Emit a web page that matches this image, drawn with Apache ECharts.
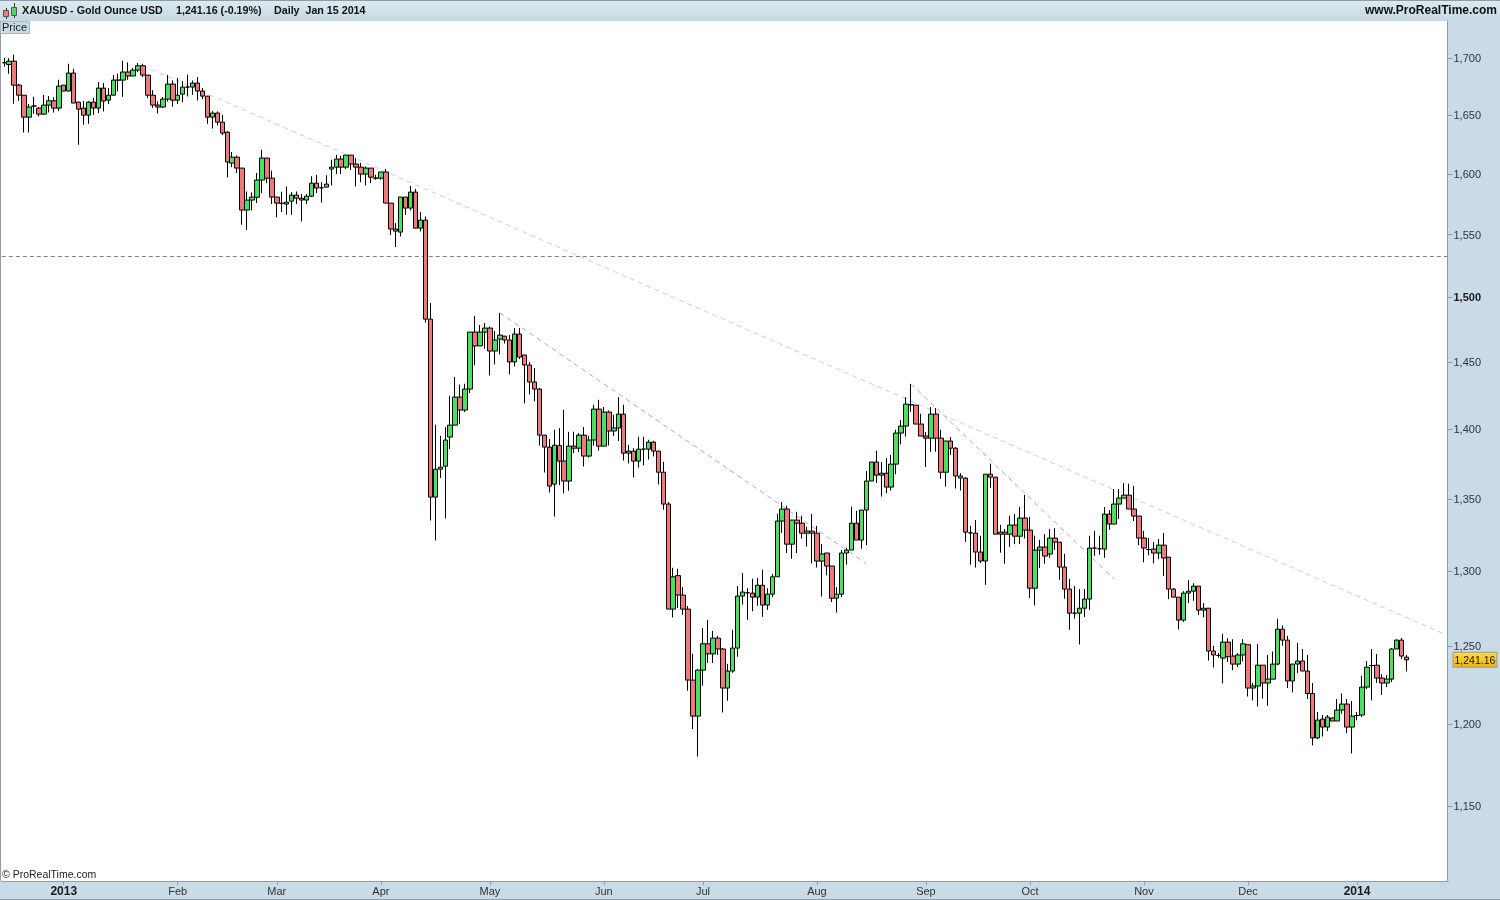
<!DOCTYPE html>
<html>
<head>
<meta charset="utf-8">
<title>XAUUSD - Gold Ounce USD</title>
<script src="https://cdn.jsdelivr.net/npm/echarts@6/dist/echarts.min.js"></script>
<style>
html, body { margin: 0; padding: 0; background: #c8dbe6; }
#main { width: 1500px; height: 900px; }
</style>
</head>
<body>
<div id="main"></div>
<script>
var opens = [
1695.6,1694.1,1697,1675.9,1667.1,1648.1,1657.7,1655.9,1650.7,1658.5,
1662.2,1655.9,1675.9,1670.7,1686.5,1661.1,1655.9,1649.8,1661.1,1655.9,
1673.3,1662.8,1667.1,1680.3,1680.3,1687.4,1683.9,1689.1,1692.9,1684.7,
1667.1,1658.5,1656.8,1663.7,1676.8,1662.8,1668,1674.2,1674.2,1677.7,
1670.7,1666.3,1648.1,1651.6,1643.8,1635.2,1609,1614,1604.8,1570,
1578.2,1580.5,1594.8,1613.2,1596.4,1580.7,1575.5,1574.9,1577.3,1582.3,
1579.7,1578.2,1581.4,1592.2,1588.4,1588.9,1604,1605.6,1612.4,1605.6,
1615.7,1608.2,1605.6,1599.8,1604.8,1596.4,1596.4,1601.5,1575.7,1554.5,
1552,1580.7,1571.6,1584.8,1555.2,1561.8,1483,1351.3,1371.2,1373.3,
1394.4,1403.1,1423.8,1414.2,1429.8,1473,1462.4,1473,1476.1,1458.5,
1467.6,1469.9,1466.9,1450.2,1471.5,1455.5,1447.9,1435.1,1429.8,1395.8,
1387.1,1360.5,1388.2,1377,1362.7,1387.8,1386.3,1395.8,1380.6,1392.2,
1414.9,1387.8,1412.7,1398.8,1401,1411.2,1382.7,1384.2,1377,1385.6,
1385.6,1390.7,1384.2,1369,1346.4,1274.5,1297,1283.9,1274.5,1228.1,
1205.2,1234.5,1251.6,1245,1255.3,1248.2,1223,1233.9,1248.8,1283.2,
1285.4,1285.2,1282.5,1290.5,1277.2,1284.5,1296.2,1334.5,1342.9,1318.5,
1335.2,1333,1326.1,1327.5,1326.1,1306.9,1312.4,1303.5,1281.8,1284.5,
1312.4,1314.4,1333,1321.3,1342.2,1362.7,1376.3,1366.9,1368.3,1358.4,
1374.8,1397.3,1402.4,1418.1,1417.8,1403.9,1395.1,1393.6,1411.2,1393.6,
1369,1391.5,1386.3,1366.3,1364.8,1326.3,1326.1,1313.1,1306.9,1367.6,
1365.5,1325.4,1326.8,1325.4,1331.7,1324,1336.6,1328.2,1288.5,1314.4,
1316.5,1311.7,1322.7,1319.9,1302.8,1287.9,1271.8,1271.8,1275.1,1281.2,
1315.8,1315.3,1315.1,1339.4,1332.4,1346.4,1350.6,1352.7,1342.9,1338,
1322.7,1314.8,1315.1,1312.4,1317.8,1309.6,1287.9,1282.5,1267.2,1285.2,
1286.5,1289.9,1273.8,1275.1,1246.9,1244,1242.3,1252.7,1243.6,1238.4,
1244.3,1251,1223,1224.3,1237.7,1226.2,1228.7,1238.4,1261.2,1254,
1227.5,1238.4,1240.4,1233.9,1219.5,1191.5,1203.3,1198.3,1204,1202.1,
1209,1212.8,1198.3,1205.6,1205.9,1223.6,1237.5,1237.7,1229.4,1226.2,
1228.7,1248.2,1254,1242.9
];
var closes = [
1695.6,1697,1675.9,1667.1,1648.1,1656.8,1657.7,1650.7,1658.5,1662.2,
1655.9,1675,1670.7,1686.5,1660.3,1655,1649.8,1661.1,1655.9,1673.3,
1662,1667.1,1680.3,1680.3,1687.4,1683.9,1689.1,1692.9,1684.7,1667.1,
1658.5,1656.8,1663.7,1676.8,1662.8,1667.1,1674.2,1674.2,1677.7,1670.7,
1666.3,1648.1,1651.6,1643.8,1634.4,1609.9,1614,1604.8,1570,1578.2,
1580.7,1594.8,1613.2,1596.4,1580.7,1575.7,1575.5,1576.5,1582.3,1579.7,
1578.2,1581.4,1592.2,1588.1,1588.4,1591.4,1605.6,1612.4,1605.6,1615.7,
1608.2,1605.6,1599.8,1604.8,1597.2,1596.4,1601.5,1575.7,1554.5,1552.8,
1580.7,1571.6,1584.8,1555.2,1561.8,1483,1351.3,1371.2,1372.6,1392.2,
1403.1,1423.8,1414.2,1429.8,1473,1462.4,1473,1476.1,1458.5,1466.9,
1470.7,1466.9,1450.2,1471.5,1453.9,1447.9,1435.1,1429.8,1395.8,1387.1,
1359.1,1388.5,1377,1362.7,1387.8,1386.3,1395.8,1380.6,1392.2,1414.9,
1387.8,1412.7,1398.8,1401,1411.2,1382.7,1384.2,1377,1385.6,1385.6,
1390.7,1384.2,1369,1346.4,1274.5,1296.2,1283.9,1274.5,1228.1,1205.2,
1234.5,1251.6,1245,1255.3,1248.2,1223,1233.9,1248.8,1283.2,1285.9,
1285.4,1282.5,1290.5,1277.2,1284.5,1296.2,1334.5,1342.9,1318.5,1335.2,
1333,1326.1,1327.5,1326.1,1306.9,1311.7,1303.5,1281.8,1284.5,1312.4,
1314.4,1333,1321.3,1342.2,1362.7,1376.3,1366.9,1368.3,1358.4,1374.8,
1397.3,1402.4,1418.6,1418.1,1403.9,1395.1,1393.6,1411.2,1393.6,1369,
1391.5,1386.3,1366.3,1364.8,1326.8,1326.3,1313.1,1306.9,1367.6,1365.5,
1325.4,1326.8,1325.4,1331.7,1324,1336.6,1328.2,1288.5,1314.4,1316.5,
1310.3,1322.7,1319.9,1302.8,1287.9,1271.8,1271.8,1275.1,1281.2,1315.8,
1315.8,1315.3,1339.4,1332.4,1346.4,1350.6,1352.7,1342.9,1338,1322.7,
1315.8,1314.8,1312.4,1317.8,1309,1287.9,1282.5,1267.2,1285.2,1286.5,
1289.9,1273.8,1275.1,1246.9,1244.3,1244,1252.7,1243.2,1238.4,1244.3,
1251.6,1223,1224.3,1237.7,1226.2,1228.7,1238.4,1261.2,1254,1227.5,
1238.4,1240.4,1233.9,1219.5,1191.5,1202.7,1198.3,1204.6,1202.1,1209,
1212.8,1198.3,1205.2,1205.6,1223.6,1236.4,1237.5,1229.4,1226.2,1228.7,
1248.2,1254,1243.6,1241.16
];
var lows = [
1692.1,1685.9,1659.7,1662.2,1634.9,1634.9,1651,1648.7,1650.1,1652.1,
1652.1,1653.3,1670.7,1670.7,1660.3,1624.5,1641.5,1642.4,1650.1,1651.6,
1653,1659.4,1667.1,1670.4,1665.7,1680.6,1683.9,1687.4,1682.9,1664.6,
1655.9,1651.2,1655.9,1661.6,1657.2,1659.4,1660.8,1666,1667.4,1662.5,
1663.7,1642.4,1638.3,1640.9,1632.7,1596.9,1605.6,1600.6,1558,1553.9,
1569.6,1575.7,1584,1592.2,1574.9,1563.9,1568.4,1566.1,1566.1,1574.9,
1560.6,1574.9,1580.7,1584,1576.2,1588.9,1590.3,1599.8,1599.8,1604,
1603.1,1589.5,1593,1590.3,1592.2,1595,1595,1575.7,1549.6,1539.9,
1548.5,1566.1,1569.6,1555.2,1552.5,1480.4,1334.9,1321,1364.8,1336.3,
1385.6,1403.1,1404.1,1412.7,1426.8,1447.6,1462.4,1460.3,1440,1448.4,
1455.9,1464.3,1440.8,1446.8,1452.4,1419.1,1425.8,1420.6,1388.2,1368.8,
1354.6,1337.7,1359.8,1354,1355.8,1382.7,1383.5,1373.1,1379.5,1388.2,
1384.6,1387.8,1388.2,1395.1,1391.5,1377.4,1375.3,1365.2,1372.3,1373.8,
1378.1,1380.4,1360.3,1342.4,1274.5,1268.9,1275.3,1270.7,1221.3,1197,
1180,1224.5,1239.1,1239.1,1244.3,1207.5,1214.9,1232.8,1243.2,1277.4,
1267.4,1273.1,1276.7,1269.4,1274,1282.5,1296.2,1326.3,1312.4,1308.5,
1312.3,1322.4,1316.9,1305.3,1302.5,1282.9,1297.2,1279.2,1272.2,1282.5,
1304.4,1314.4,1321.3,1315.3,1317.8,1362.7,1361.3,1351.7,1354.2,1356,
1367.6,1389,1394.8,1412.9,1403.9,1395.1,1372.8,1383.7,1383.7,1364.3,
1358.8,1381.5,1357.4,1356,1320.1,1304.4,1302.5,1305.6,1290.8,1357.9,
1325.4,1312.6,1305.1,1316.5,1318.5,1318.5,1322.4,1282,1276.9,1302.1,
1305.1,1309.2,1314.6,1294.2,1281.4,1260.8,1268.1,1251.2,1269.2,1274,
1310.5,1311.2,1309.2,1328.4,1332.4,1335.9,1350.6,1342.9,1334.5,1317.8,
1306,1310.8,1305.3,1308.3,1296.7,1281.2,1282.5,1261,1265.9,1278.5,
1280,1270.5,1269,1240.7,1236.2,1242.5,1226,1239.7,1234.5,1236.4,
1240.1,1217.6,1215.1,1211.3,1216.3,1211.7,1228.7,1237.7,1250.3,1223,
1220.2,1232.6,1233.9,1216,1186.9,1190.8,1192.4,1195.8,1202.1,1202.1,
1206.7,1194.6,1181.9,1202.5,1204.6,1222.3,1215.1,1226.2,1218.5,1223.6,
1226.8,1248.2,1241.6,1233.6
];
var highs = [
1700,1699.7,1702.7,1677.1,1667.1,1659.4,1665.7,1656.8,1667.4,1666.3,
1665.3,1680.6,1675.9,1694.7,1690.3,1661.1,1662,1662,1664.8,1678.6,
1677.7,1673.3,1684.7,1685.9,1697.3,1695.9,1691.1,1695.3,1694.7,1684.7,
1671.5,1661.6,1665.5,1684.7,1680,1682.1,1679.5,1685,1680,1682.9,
1673.3,1666.3,1653.3,1653,1650.1,1636.1,1618.3,1615.4,1604.8,1585.3,
1584.5,1600.6,1620.2,1613.2,1602.6,1580.7,1585,1589.5,1584.8,1585.3,
1583.1,1583.1,1598,1599.2,1593,1598.9,1611.8,1616,1615.2,1615.7,
1615.7,1613.2,1609,1606.2,1604.8,1599.2,1601.5,1604.2,1575.7,1559.3,
1580.7,1580.7,1590,1587.5,1568.3,1564.7,1495.5,1403.4,1395.3,1401.7,
1424.8,1438.8,1433.2,1433.8,1473,1485.6,1478.4,1480,1477.3,1473.8,
1487.8,1469.9,1470.7,1476.1,1476.1,1455.5,1450.2,1445.6,1430.6,1395.8,
1392.9,1399.7,1401,1414.4,1398.2,1398.2,1397.3,1401.7,1395.1,1418.1,
1421.8,1416.4,1413.9,1410.7,1423.8,1418.1,1388.7,1386.3,1394.6,1394.6,
1392.4,1391.7,1384.2,1376.5,1347.8,1302.3,1301.7,1289.2,1276.5,1245.1,
1235.3,1261.9,1267.4,1260.1,1256.8,1248.8,1238.6,1260.8,1289.9,1298.8,
1288.5,1294.9,1295.3,1301,1288.5,1298.1,1339.6,1347.8,1345.2,1335.2,
1341,1338.2,1330.5,1339.4,1331.2,1318.7,1312.4,1303.5,1289.2,1314.4,
1316,1344.5,1341.7,1342.2,1369.8,1376.3,1384.4,1376.3,1379.1,1381.5,
1399.7,1406.8,1423.8,1433.6,1417.8,1411.4,1398,1416.4,1415.6,1399.7,
1391.5,1394.4,1387.1,1368.3,1365.5,1331.2,1335.2,1324.3,1367.6,1375.1,
1365.5,1331.9,1328.9,1338.2,1339.4,1344.3,1352.9,1337.3,1324.3,1321.5,
1325.4,1328.9,1329.6,1319.9,1311.9,1294.7,1289.9,1287.9,1287.9,1324.3,
1327.7,1324.3,1344.3,1342.2,1357,1357,1361.2,1360.8,1359.3,1338,
1327.7,1322.7,1319.9,1322,1326.1,1309.6,1288.5,1282.5,1286.5,1294,
1291.9,1289.9,1278.5,1275.1,1250.3,1245.6,1258.2,1255.3,1254.6,1245.6,
1254.6,1251,1226.2,1251.6,1237.7,1244.3,1246.6,1268.1,1263.6,1256.8,
1238.4,1252.2,1248.2,1244.3,1226.2,1207.8,1205.9,1205.9,1204.6,1216,
1219.5,1216,1214.7,1207.8,1230.9,1240.4,1248.2,1244.9,1231.9,1231.3,
1248.8,1254.6,1255.3,1244.3
];

// y axis ticks, last traded price
var priceTicks = [1150, 1200, 1250, 1300, 1350, 1400, 1450, 1500, 1550, 1600, 1650, 1700];
var lastPrice = 1241.16;
var supportLevel = 1532.9;

// first trading day of each month and its label
var monthDays = ['2013-01-01','2013-02-01','2013-03-01','2013-04-01','2013-05-01','2013-06-03','2013-07-01','2013-08-01','2013-09-02','2013-10-01','2013-11-01','2013-12-02','2014-01-01'];
var monthNames = ['2013','Feb','Mar','Apr','May','Jun','Jul','Aug','Sep','Oct','Nov','Dec','2014'];

// trend lines: [category index, price]
var mainTrend = [[28, 1692.9], [291, 1257.5]];
var springTrend = [[100, 1488], [174, 1305.1]];
var autumnTrend = [[183, 1433.6], [224, 1294.7]];

// weekdays from Dec 14 2012, with a few empty slots after the last bar
var categories = [];
var d = new Date(Date.UTC(2012, 11, 14));
while (categories.length < 292) {
  if (d.getUTCDay() !== 0 && d.getUTCDay() !== 6) {
    categories.push(d.toISOString().slice(0, 10));
  }
  d.setUTCDate(d.getUTCDate() + 1);
}

var candleData = opens.map(function (o, i) {
  return [o, closes[i], lows[i], highs[i]];
});

var FONT = '"Liberation Sans", Arial, sans-serif';

function trendSeries(points, color) {
  return {
    type: 'line',
    data: points,
    symbol: 'none',
    silent: true,
    z: 3,
    lineStyle: { color: color, width: 1, type: [5, 4] }
  };
}

var myChart = echarts.init(document.getElementById('main'));
myChart.setOption({
  animation: false,
  backgroundColor: '#c8dbe6',
  textStyle: { fontFamily: FONT },
  grid: { left: 1.8, top: 21, width: 1446.9, height: 860, outerBoundsMode: 'none' },
  xAxis: {
    type: 'category',
    data: categories,
    boundaryGap: true,
    axisLine: { show: true, lineStyle: { color: '#8f9da6', width: 1 } },
    axisTick: {
      show: true,
      alignWithLabel: true,
      length: 4,
      lineStyle: { color: '#8f9da6' },
      interval: function (i, v) { return monthDays.indexOf(v) >= 0; }
    },
    axisLabel: {
      show: true,
      margin: 5,
      hideOverlap: false,
      interval: function (i, v) { return monthDays.indexOf(v) >= 0; },
      formatter: function (v) {
        var name = monthNames[monthDays.indexOf(v)];
        return /^\d/.test(name) ? '{year|' + name + '}' : '{month|' + name + '}';
      },
      rich: {
        year: { fontFamily: FONT, fontSize: 12, fontWeight: 'bold', color: '#1a1a1a' },
        month: { fontFamily: FONT, fontSize: 11, color: '#333333' }
      }
    },
    splitLine: { show: false }
  },
  yAxis: {
    type: 'log',
    position: 'right',
    offset: -1.2,
    min: 1105.7,
    max: 1733,
    scale: true,
    axisLine: { show: true, onZero: false, lineStyle: { color: '#8f9da6', width: 1 } },
    axisTick: {
      show: true,
      length: 5,
      lineStyle: { color: '#8f9da6' },
      customValues: priceTicks
    },
    minorTick: { show: false },
    axisLabel: {
      show: true,
      margin: 6,
      hideOverlap: false,
      customValues: priceTicks.concat([lastPrice]),
      formatter: function (v) {
        if (Math.abs(v - lastPrice) < 0.01) return '{last|1,241.16}';
        var s = String(Math.round(v)).replace(/(\d)(\d{3})$/, '$1,$2');
        return Math.round(v) === 1500 ? '{bold|' + s + '}' : '{plain|' + s + '}';
      },
      rich: {
        plain: { fontFamily: FONT, fontSize: 11, color: '#333333', padding: [2, 0, 0, 0] },
        bold: { fontFamily: FONT, fontSize: 11, fontWeight: 'bold', color: '#1a1a1a', padding: [2, 0, 0, 0] },
        last: {
          fontFamily: FONT, fontSize: 10.5, color: '#1a1a1a',
          backgroundColor: new echarts.graphic.LinearGradient(0, 0, 0, 1, [
            { offset: 0, color: '#ffd94a' }, { offset: 1, color: '#f5b400' }
          ]),
          borderColor: '#8f9da6', borderWidth: 1, padding: [3, 1, 0, 1]
        }
      }
    },
    splitLine: { show: false }
  },
  series: [
    {
      type: 'candlestick',
      data: candleData,
      barWidth: 5,
      z: 4,
      silent: true,
      itemStyle: {
        color: '#4ce060',
        color0: '#f07878',
        borderColor: '#000000',
        borderColor0: '#000000',
        borderColorDoji: '#000000',
        borderWidth: 1
      },
      markLine: {
        silent: true,
        symbol: 'none',
        label: { show: false },
        z: 3,
        lineStyle: { color: '#808080', width: 1, type: [4, 3] },
        data: [{ yAxis: supportLevel }]
      }
    },
    trendSeries(mainTrend, '#c8c8f2'),
    trendSeries(springTrend, '#aeaeae'),
    trendSeries(autumnTrend, '#aeaeae')
  ],
  graphic: [
    { type: 'rect', silent: true, z: -2, shape: { x: 1, y: 21, width: 1446, height: 860 }, style: { fill: '#ffffff' } },
    { type: 'rect', silent: true, z: -1, shape: { x: 0, y: 0, width: 1500, height: 21 }, style: { fill: new echarts.graphic.LinearGradient(0, 0, 0, 1, [{ offset: 0, color: '#dfeaf0' }, { offset: 1, color: '#c4d8e3' }]) } },
    { type: 'rect', silent: true, z: 5, shape: { x: 0, y: 0, width: 1500, height: 1 }, style: { fill: '#8f9da6' } },
    { type: 'rect', silent: true, z: 5, shape: { x: 0, y: 21, width: 1, height: 860 }, style: { fill: '#8f9da6' } },
    { type: 'rect', silent: true, z: 5, shape: { x: 0, y: 899, width: 1500, height: 1 }, style: { fill: '#8f9da6' } },
    // header icon
    { type: 'rect', silent: true, z: 6, shape: { x: 6, y: 8, width: 1, height: 11 }, style: { fill: '#333333' } },
    { type: 'rect', silent: true, z: 6, shape: { x: 3.5, y: 10.5, width: 5, height: 6 }, style: { fill: '#f07878', stroke: '#555555', lineWidth: 1 } },
    { type: 'rect', silent: true, z: 6, shape: { x: 14, y: 3, width: 1, height: 15 }, style: { fill: '#333333' } },
    { type: 'rect', silent: true, z: 6, shape: { x: 11.5, y: 7.5, width: 5, height: 8 }, style: { fill: '#4cdc60', stroke: '#555555', lineWidth: 1 } },
    { type: 'text', silent: true, z: 6, style: { x: 22, y: 11, text: 'XAUUSD - Gold Ounce USD', fill: '#111111', font: 'bold 10.7px ' + FONT, textVerticalAlign: 'middle' } },
    { type: 'text', silent: true, z: 6, style: { x: 176, y: 11, text: '1,241.16 (-0.19%)', fill: '#111111', font: 'bold 10.7px ' + FONT, textVerticalAlign: 'middle' } },
    { type: 'text', silent: true, z: 6, style: { x: 274, y: 11, text: 'Daily  Jan 15 2014', fill: '#111111', font: 'bold 10.7px ' + FONT, textVerticalAlign: 'middle' } },
    { type: 'text', silent: true, z: 6, style: { x: 1497, y: 11, text: 'www.ProRealTime.com', fill: '#111111', font: 'bold 12px ' + FONT, textAlign: 'right', textVerticalAlign: 'middle' } },
    // Price tab
    { type: 'rect', silent: true, z: 6, shape: { x: 0.5, y: 21.5, width: 29, height: 12 }, style: { fill: '#c8dbe6', stroke: '#a9b8c1', lineWidth: 1 } },
    { type: 'text', silent: true, z: 7, style: { x: 2, y: 28, text: 'Price', fill: '#222222', font: '11px ' + FONT, textVerticalAlign: 'middle' } },
    { type: 'text', silent: true, z: 7, style: { x: 2, y: 875, text: '\u00a9 ProRealTime.com', fill: '#222222', font: '10.5px ' + FONT, textVerticalAlign: 'middle' } }
  ]
});
</script>
</body>
</html>
